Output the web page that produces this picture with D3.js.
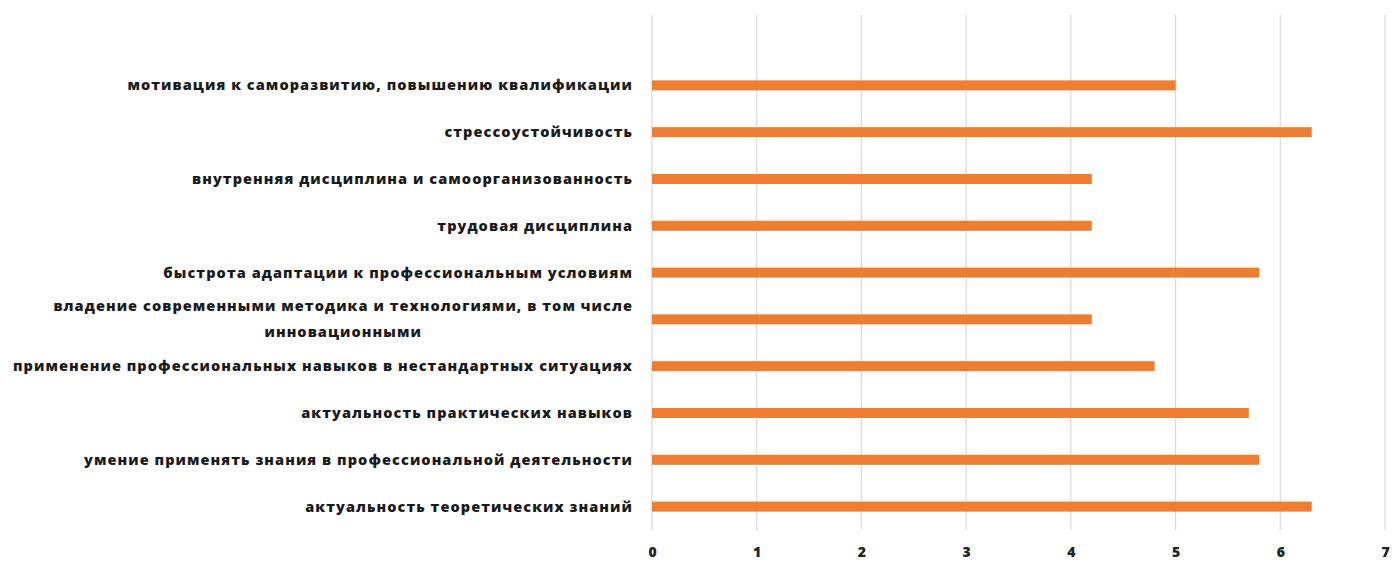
<!DOCTYPE html>
<html><head><meta charset="utf-8">
<script src="https://cdn.jsdelivr.net/npm/d3@7"></script>
<style>html,body{margin:0;padding:0;background:#fff;}svg{display:block;}</style>
</head><body>
<svg id="c" width="1394" height="563"></svg>
<script>
const categories = [
  "мотивация к саморазвитию, повышению квалификации",
  "стрессоустойчивость",
  "внутренняя дисциплина и самоорганизованность",
  "трудовая дисциплина",
  "быстрота адаптации к профессиональным условиям",
  "владение современными методика и технологиями, в том числе|инновационными",
  "применение профессиональных навыков в нестандартных ситуациях",
  "актуальность практических навыков",
  "умение применять знания в профессиональной деятельности",
  "актуальность теоретических знаний"
];
const values = [5.0, 6.3, 4.2, 4.2, 5.8, 4.2, 4.8, 5.7, 5.8, 6.3];
const xTicks = [0, 1, 2, 3, 4, 5, 6, 7];

const svg = d3.select("#c");
const x = d3.scaleLinear().domain([0, 7]).range([652, 1385]);
const y = d3.scaleBand().domain(categories).range([62, 530]);
const gridTop = 15, gridBottom = 530;
const barH = 10;
const font = "'Open Sans', 'DejaVu Sans', sans-serif";

svg.append("g").selectAll("line").data(xTicks).join("line")
  .attr("x1", d => x(d)).attr("x2", d => x(d))
  .attr("y1", gridTop).attr("y2", gridBottom)
  .attr("stroke", "#d9d9d9").attr("stroke-width", 1.2);

svg.append("g").selectAll("rect").data(values).join("rect")
  .attr("x", x(0))
  .attr("y", (d, i) => y(categories[i]) + y.bandwidth() / 2 - barH / 2)
  .attr("width", d => x(d) - x(0))
  .attr("height", barH)
  .attr("fill", "#ED7D31");

const xa = d3.axisBottom(x).tickValues(xTicks).tickSize(0).tickPadding(0).tickFormat(d3.format("d"));
const gx = svg.append("g").attr("transform", "translate(0,547)").call(xa);
gx.select(".domain").remove();
gx.selectAll("text").attr("font-family", font).attr("font-weight", 800)
  .attr("font-size", 14).attr("fill", "#222");

const lg = svg.append("g");
const labelRight = 633;
const fs = 14.5;
const texts = [];
categories.forEach((c, i) => {
  const lines = c.split("|");
  const cy = y(c) + y.bandwidth() / 2;
  const lineGap = 26;
  lines.forEach((ln, j) => {
    const t = lg.append("text")
      .attr("y", cy + (j - (lines.length - 1) / 2) * lineGap)
      .attr("dy", "0.35em")
      .attr("font-family", font).attr("font-weight", 800).attr("font-size", fs)
      .attr("fill", "#1a1a1a")
      .text(ln);
    texts.push({t, ln, multi: lines.length > 1, j, c});
  });
});
const longest = texts.reduce((a, b) => a.t.node().getComputedTextLength() > b.t.node().getComputedTextLength() ? a : b);
const w0 = longest.t.node().getComputedTextLength();
const ls = (619 - w0) / (longest.ln.length - 1);
texts.forEach(o => o.t.attr("letter-spacing", ls));
const blocks = {};
texts.forEach(o => {
  const w = o.t.node().getComputedTextLength();
  o.w = w;
  if (o.multi) { blocks[o.c] = Math.max(blocks[o.c] || 0, w); }
});
texts.forEach(o => {
  if (o.multi) {
    const bw = blocks[o.c];
    const center = labelRight - bw / 2;
    o.t.attr("x", center - o.w / 2);
  } else {
    o.t.attr("x", labelRight - o.w);
  }
});
</script>
</body></html>
